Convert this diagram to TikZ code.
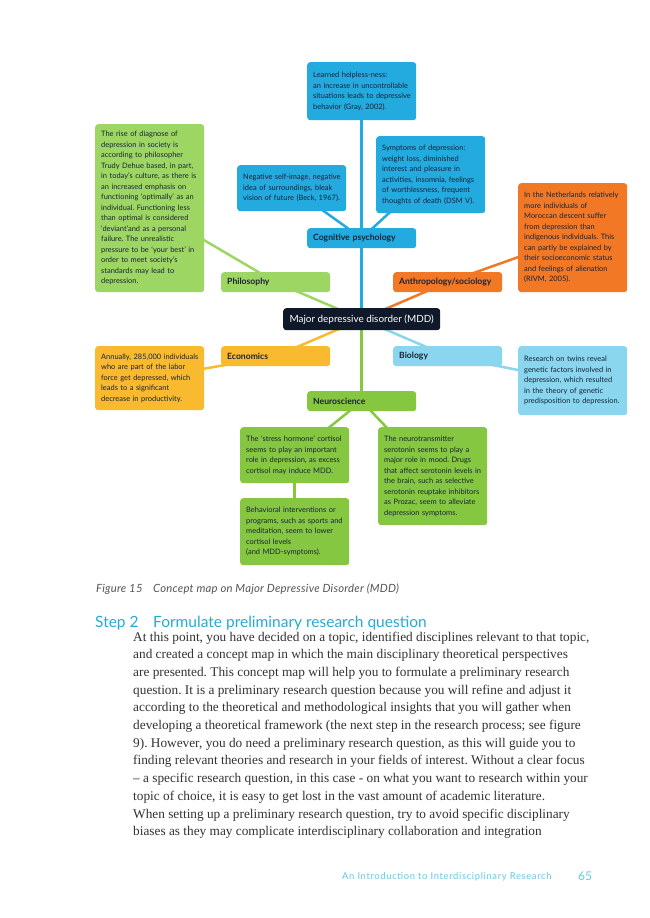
\documentclass[tikz,border=0pt]{standalone}
\usepackage{fontspec}
\setmainfont{Liberation Serif}
\newfontfamily\boxfont{Lato}
\newfontfamily\footfont[LetterSpace=7]{Lato}
\newfontfamily\capfont[LetterSpace=2]{Lato}
\frenchspacing
\pgfdeclarelayer{background}
\pgfsetlayers{background,main}
\definecolor{cyanC}{RGB}{35,170,222}
\definecolor{lgreenC}{RGB}{158,214,100}
\definecolor{greenC}{RGB}{133,199,64}
\definecolor{orangeC}{RGB}{242,120,37}
\definecolor{yellowC}{RGB}{250,186,48}
\definecolor{lblueC}{RGB}{137,214,238}
\definecolor{navyC}{RGB}{15,25,42}
\definecolor{textnavy}{RGB}{25,35,55}
\definecolor{bodyC}{RGB}{50,50,50}
\definecolor{capC}{RGB}{85,85,85}
\definecolor{headC}{RGB}{40,170,210}
\definecolor{footC}{RGB}{100,200,228}
\newcommand{\boxlines}[1]{\noindent\begin{tabular}{@{}l@{}}#1\end{tabular}}
\begin{document}
\begin{tikzpicture}[x=1pt,y=-1pt,
  txtbox/.style={rounded corners=3pt, inner xsep=6pt, inner ysep=4pt, align=left,
    font=\boxfont\fontsize{7.45}{10.5}\selectfont, text=textnavy, anchor=north west,
    minimum width=109pt, text width=97pt},
  catbox/.style={rounded corners=3pt, inner xsep=6pt, inner ysep=0pt, align=left,
    font=\boxfont\bfseries\fontsize{8.6}{10}\selectfont, text=textnavy, anchor=north west,
    minimum width=109pt, minimum height=20pt, text width=97pt},
  edge/.style={line width=2.5pt},
  bodyline/.style={anchor=base west, inner sep=0pt, text=bodyC,
    font=\fontsize{13.3}{16}\selectfont}
]
\useasboundingbox (0,0) rectangle (650,918);

% top: cognitive psychology
\node[txtbox, fill=cyanC, minimum height=58pt] (learned) at (307,62)
 {\boxlines{Learned helpless-ness:\\ an increase in uncontrollable\\ situations leads to depressive\\ behavior (Gray, 2002).}};
\node[txtbox, fill=cyanC, minimum height=46pt] (neg) at (237,165)
 {\boxlines{Negative self-image, negative\\ idea of surroundings, bleak\\ vision of future (Beck, 1967).}};
\node[txtbox, fill=cyanC, minimum height=77pt] (symp) at (376,136)
 {\boxlines{Symptoms of depression:\\ weight loss, diminished\\ interest and pleasure in\\ activities, insomnia, feelings\\ of worthlessness, frequent\\ thoughts of death (DSM V).}};
\node[catbox, fill=cyanC] (cog) at (307,228) {Cognitive psychology};

% philosophy
\node[txtbox, fill=lgreenC, minimum height=168pt] (philtxt) at (95,124)
 {\boxlines{The rise of diagnose of\\ depression in society is\\ according to philosopher\\ Trudy Dehue based, in part,\\ in today’s culture, as there is\\ an increased emphasis on\\ functioning ‘optimally’ as an\\ individual. Functioning less\\ than optimal is considered\\ ‘deviant’and as a personal\\ failure. The unrealistic\\ pressure to be ‘your best’ in\\ order to meet society’s\\ standards may lead to\\ depression.}};
\node[catbox, fill=lgreenC] (phil) at (221,272) {Philosophy};

% anthropology
\node[txtbox, fill=orangeC, minimum height=109pt] (neth) at (518,183)
 {\boxlines{In the Netherlands relatively\\ more individuals of\\ Moroccan descent suffer\\ from depression than\\ indigenous individuals. This\\ can partly be explained by\\ their socioeconomic status\\ and feelings of alienation\\ (RIVM, 2005).}};
\node[catbox, fill=orangeC] (anth) at (393,272) {Anthropology/sociology};

% center
\node[rounded corners=3pt, fill=navyC, text=white, anchor=north west, minimum width=157pt,
  minimum height=22pt, inner sep=0pt, font=\boxfont\fontsize{9.9}{11}\selectfont] (mdd) at (283,308)
 {Major depressive disorder (MDD)};

% economics
\node[catbox, fill=yellowC] (econ) at (221,346) {Economics};
\node[txtbox, fill=yellowC, minimum height=64pt] (annual) at (95,346)
 {\boxlines{Annually, 285,000 individuals\\ who are part of the labor\\ force get depressed, which\\ leads to a significant\\ decrease in productivity.}};

% biology
\node[catbox, fill=lblueC] (bio) at (393,346) {Biology};
\node[txtbox, fill=lblueC, minimum height=69pt] (twins) at (518,346)
 {\boxlines{Research on twins reveal\\ genetic factors involved in\\ depression, which resulted\\ in the theory of genetic\\ predisposition to depression.}};

% neuroscience
\node[catbox, fill=greenC] (neuro) at (307,391) {Neuroscience};
\node[txtbox, fill=greenC, minimum height=56pt] (stress) at (240,427)
 {\boxlines{The ‘stress hormone’ cortisol\\ seems to play an important\\ role in depression, as excess\\ cortisol may induce MDD.}};
\node[txtbox, fill=greenC, minimum height=98pt] (serot) at (378,427)
 {\boxlines{The neurotransmitter\\ serotonin seems to play a\\ major role in mood. Drugs\\ that affect serotonin levels in\\ the brain, such as selective\\ serotonin reuptake inhibitors\\ as Prozac, seem to alleviate\\ depression symptoms.}};
\node[txtbox, fill=greenC, minimum height=67pt] (behav) at (240,498)
 {\boxlines{Behavioral interventions or\\ programs, such as sports and\\ meditation, seem to lower\\ cortisol levels\\ (and MDD-symptoms).}};

\begin{pgfonlayer}{background}
 \fill[white] (0,0) rectangle (650,918);
 \draw[edge, cyanC] (mdd.center) -- (cog.center);
 \draw[edge, cyanC] (cog.center) -- (learned.center);
 \draw[edge, cyanC] (cog.center) -- (neg.center);
 \draw[edge, cyanC] (cog.center) -- (symp.center);
 \draw[edge, lgreenC] (mdd.center) -- (phil.center);
 \draw[edge, lgreenC] (phil.center) -- (philtxt.center);
 \draw[edge, orangeC] (mdd.center) -- (anth.center);
 \draw[edge, orangeC] (anth.center) -- (neth.center);
 \draw[edge, yellowC] (mdd.center) -- (econ.center);
 \draw[edge, yellowC] (econ.center) -- (annual.center);
 \draw[edge, lblueC] (mdd.center) -- (bio.center);
 \draw[edge, lblueC] (bio.center) -- (twins.center);
 \draw[edge, greenC] (mdd.center) -- (neuro.center);
 \draw[edge, greenC] (neuro.center) -- (stress.center);
 \draw[edge, greenC] (neuro.center) -- (serot.center);
 \draw[edge, greenC] (stress.center) -- (behav.center);
\end{pgfonlayer}

% caption and heading
\node[anchor=base west, inner sep=0pt, text=capC, font=\capfont\itshape\fontsize{11.3}{12}\selectfont] (figlab) at (96,592) {Figure 15};
\node[anchor=base west, inner sep=0pt, text=capC, font=\capfont\itshape\fontsize{11.3}{12}\selectfont] (figcap) at (153,592) {Concept map on Major Depressive Disorder (MDD)};
\node[anchor=base west, inner sep=0pt, text=headC, font=\boxfont\fontsize{15.5}{17}\selectfont] (steplab) at (95,627.5) {Step 2};
\node[anchor=base west, inner sep=0pt, text=headC, font=\boxfont\fontsize{15.5}{17}\selectfont] (steptitle) at (153,627.5) {Formulate preliminary research question};

% body
\node[bodyline] (b1) at (133,641) {At this point, you have decided on a topic, identified disciplines relevant to that topic,};
\node[bodyline] (b2) at (133,658.7) {and created a concept map in which the main disciplinary theoretical perspectives};
\node[bodyline] (b3) at (133,676.4) {are presented. This concept map will help you to formulate a preliminary research};
\node[bodyline] (b4) at (133,694.1) {question. It is a preliminary research question because you will refine and adjust it};
\node[bodyline] (b5) at (133,711.8) {according to the theoretical and methodological insights that you will gather when};
\node[bodyline] (b6) at (133,729.5) {developing a theoretical framework (the next step in the research process; see figure};
\node[bodyline] (b7) at (133,747.2) {9). However, you do need a preliminary research question, as this will guide you to};
\node[bodyline] (b8) at (133,764.9) {finding relevant theories and research in your fields of interest. Without a clear focus};
\node[bodyline] (b9) at (133,782.6) {– a specific research question, in this case - on what you want to research within your};
\node[bodyline] (b10) at (133,800.3) {topic of choice, it is easy to get lost in the vast amount of academic literature.};
\node[bodyline] (b11) at (133,818) {When setting up a preliminary research question, try to avoid specific disciplinary};
\node[bodyline] (b12) at (133,835.7) {biases as they may complicate interdisciplinary collaboration and integration};

% footer
\node[anchor=base west, inner sep=0pt, text=footC, font=\footfont\fontsize{9.4}{10}\selectfont] (foot) at (342,879.5) {An Introduction to Interdisciplinary Research};
\node[anchor=base west, inner sep=0pt, text=footC, font=\boxfont\fontsize{12}{13}\selectfont] (pnum) at (578,880.5) {65};
\end{tikzpicture}
\end{document}
